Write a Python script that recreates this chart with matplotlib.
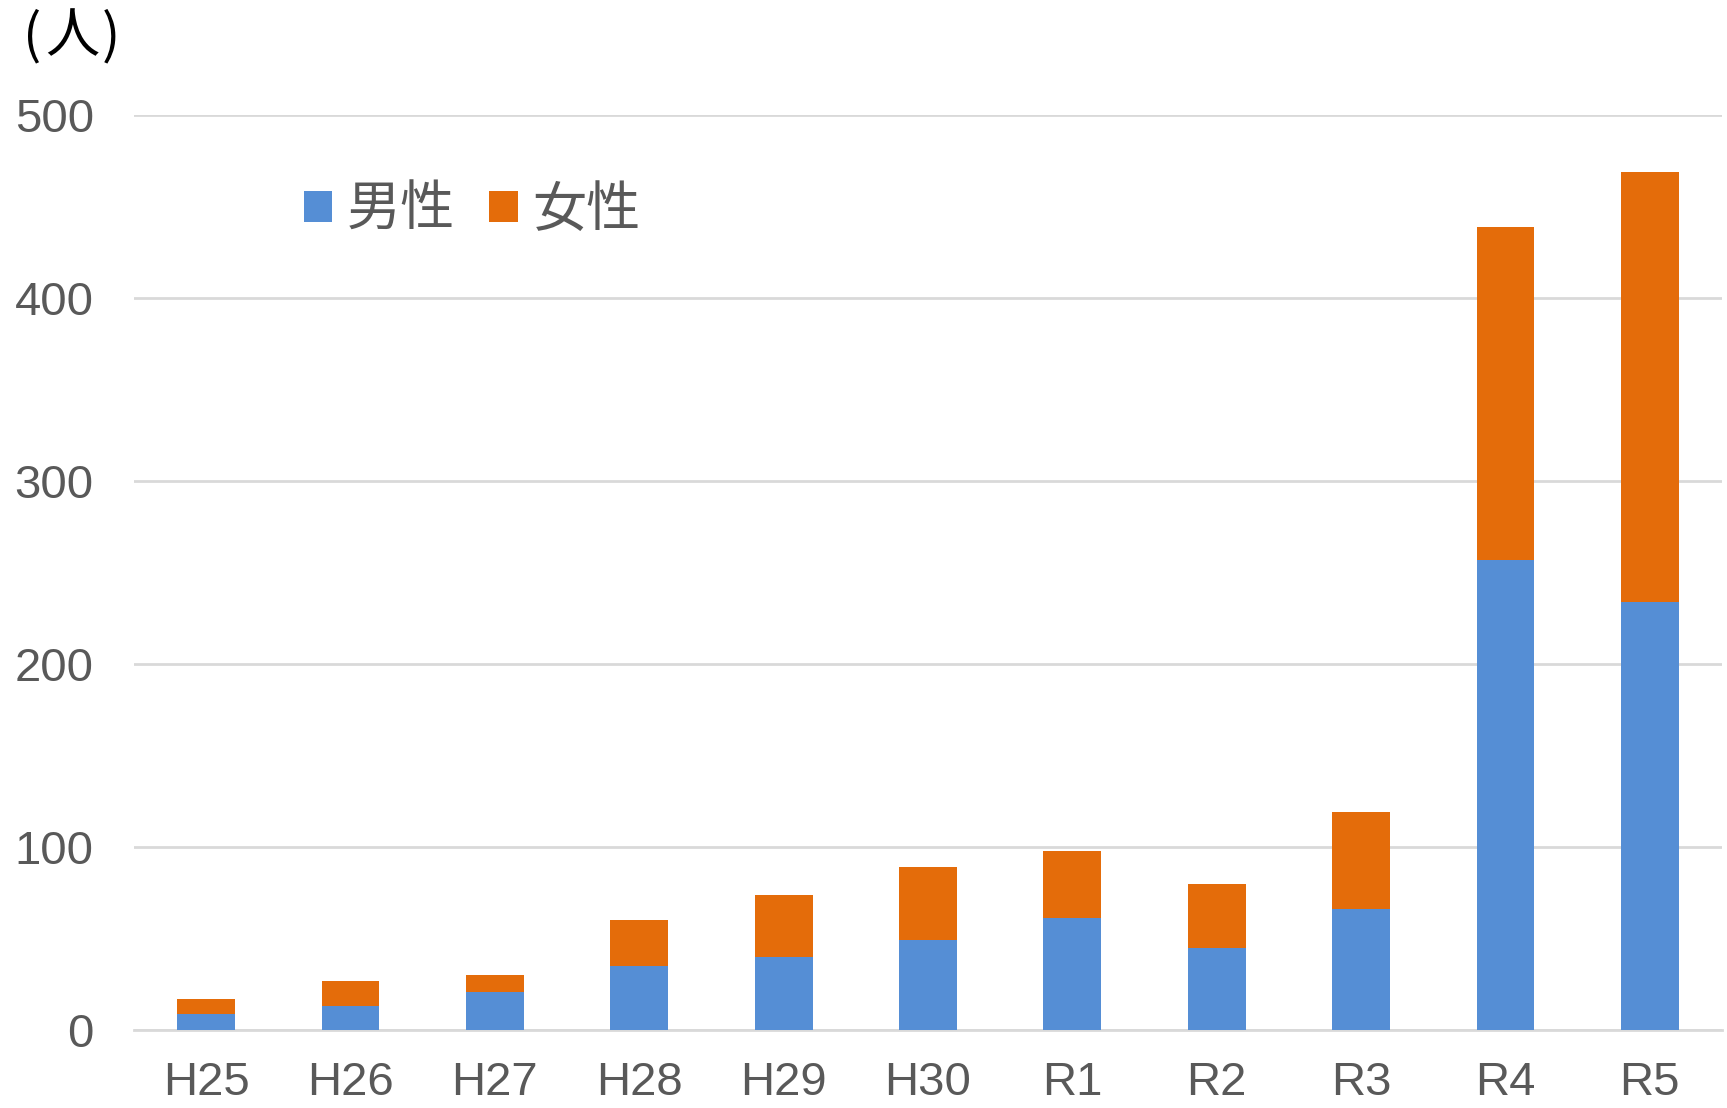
import matplotlib
matplotlib.use("Agg")
import matplotlib.pyplot as plt
import numpy as np

plt.rcParams['font.family'] = ['Liberation Sans', 'Noto Sans CJK JP', 'DejaVu Sans']

# data
years = ['H25', 'H26', 'H27', 'H28', 'H29', 'H30', 'R1', 'R2', 'R3', 'R4', 'R5']
male = [9, 13, 21, 35, 40, 49, 61, 45, 66, 257, 234]
female = [8, 14, 9, 25, 34, 40, 37, 35, 53, 182, 235]
yticks = [0, 100, 200, 300, 400, 500]

blue = '#558ED5'
orange = '#E46C0A'
grey = '#595959'

fig = plt.figure(figsize=(17.27, 11.08), dpi=100)
ax = fig.add_axes([134 / 1727, 1 - 1030 / 1108, (1722 - 134) / 1727, 915 / 1108])

x = np.arange(len(years))
ax.bar(x, male, width=0.4, color=blue, label='男性', zorder=3)
ax.bar(x, female, width=0.4, bottom=male, color=orange, label='女性', zorder=3)

ax.set_xlim(-0.5, len(years) - 0.5)
ax.set_ylim(0, 500)
ax.set_yticks(yticks)
ax.set_xticks(x)
ax.set_xticklabels(years)
ax.yaxis.grid(True, color='#D9D9D9', linewidth=2, zorder=0)
ax.set_axisbelow(True)
for s in ['top', 'right', 'left']:
    ax.spines[s].set_visible(False)
ax.spines['bottom'].set_color('#D9D9D9')
ax.spines['bottom'].set_linewidth(2)
ax.tick_params(axis='both', length=0, labelsize=34, colors=grey)
ax.tick_params(axis='y', pad=29)
ax.tick_params(axis='x', pad=22)

leg = ax.legend(loc='center left', bbox_to_anchor=(0.0765, 0.896), ncol=2, frameon=False,
                handlelength=0.52, handleheight=0.52, handletextpad=0.27,
                columnspacing=0.63,
                prop={'family': ['Noto Sans CJK JP'], 'size': 39})
for t in leg.get_texts():
    t.set_color(grey)

# unit label "（人）", laid out piece by piece to match the wide spacing
unit_parts = ['(', '人', ')']
unit_x = [32.5, 72.5, 110.5]
for part, px in zip(unit_parts, unit_x):
    fig.text(px / 1727, 0.953, part, fontsize=39, color='black', va='baseline', ha='center',
             family=['Noto Sans CJK JP'])

fig.savefig('out.png', dpi=100)
